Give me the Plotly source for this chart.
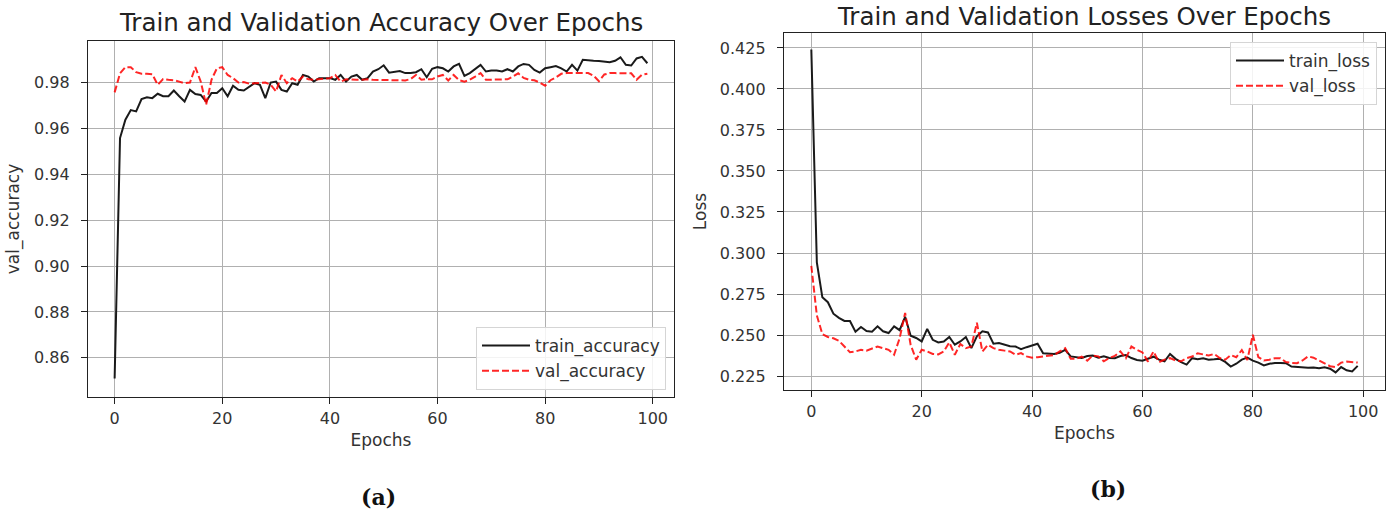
import plotly.graph_objects as go

epochs = list(range(100))

train_accuracy = [
    0.8510, 0.9558, 0.9638, 0.9680, 0.9674, 0.9728, 0.9736, 0.9732, 0.9751, 0.9740,
    0.9740, 0.9765, 0.9740, 0.9717, 0.9768, 0.9750, 0.9746, 0.9717, 0.9754, 0.9754,
    0.9775, 0.9740, 0.9786, 0.9768, 0.9765, 0.9783, 0.9797, 0.9790, 0.9732, 0.9800,
    0.9804, 0.9768, 0.9761, 0.9797, 0.9790, 0.9833, 0.9826, 0.9804, 0.9819, 0.9819,
    0.9819, 0.9812, 0.9833, 0.9804, 0.9826, 0.9833, 0.9812, 0.9819, 0.9848, 0.9858,
    0.9875, 0.9843, 0.9846, 0.9850, 0.9841, 0.9841, 0.9845, 0.9858, 0.9823, 0.9860,
    0.9867, 0.9862, 0.9848, 0.9870, 0.9881, 0.9829, 0.9841, 0.9860, 0.9877, 0.9848,
    0.9852, 0.9852, 0.9848, 0.9858, 0.9848, 0.9870, 0.9881, 0.9877, 0.9855, 0.9843,
    0.9862, 0.9867, 0.9872, 0.9862, 0.9848, 0.9877, 0.9852, 0.9899, 0.9896, 0.9895,
    0.9894, 0.9892, 0.9888, 0.9895, 0.9910, 0.9877, 0.9874, 0.9905, 0.9912, 0.9884,
]

val_accuracy = [
    0.9757, 0.9840, 0.9867, 0.9867, 0.9845, 0.9838, 0.9838, 0.9836, 0.9790, 0.9815,
    0.9812, 0.9810, 0.9804, 0.9797, 0.9800, 0.9867, 0.9804, 0.9703, 0.9812, 0.9862,
    0.9867, 0.9833, 0.9819, 0.9800, 0.9802, 0.9795, 0.9797, 0.9800, 0.9800, 0.9790,
    0.9761, 0.9833, 0.9797, 0.9819, 0.9804, 0.9826, 0.9814, 0.9812, 0.9814, 0.9819,
    0.9819, 0.9833, 0.9804, 0.9814, 0.9812, 0.9812, 0.9812, 0.9814, 0.9812, 0.9812,
    0.9810, 0.9809, 0.9809, 0.9809, 0.9809, 0.9815, 0.9833, 0.9812, 0.9815, 0.9814,
    0.9826, 0.9833, 0.9809, 0.9833, 0.9810, 0.9804, 0.9812, 0.9826, 0.9841, 0.9812,
    0.9812, 0.9812, 0.9812, 0.9814, 0.9826, 0.9840, 0.9820, 0.9812, 0.9810, 0.9800,
    0.9786, 0.9810, 0.9822, 0.9838, 0.9841, 0.9841, 0.9841, 0.9841, 0.9841, 0.9830,
    0.9806, 0.9835, 0.9841, 0.9841, 0.9841, 0.9841, 0.9840, 0.9812, 0.9834, 0.9838,
]

train_loss = [
    0.4240, 0.2943, 0.2730, 0.2700, 0.2630, 0.2605, 0.2586, 0.2585, 0.2520, 0.2549,
    0.2525, 0.2520, 0.2553, 0.2523, 0.2512, 0.2553, 0.2530, 0.2611, 0.2496, 0.2482,
    0.2461, 0.2537, 0.2471, 0.2455, 0.2460, 0.2488, 0.2441, 0.2461, 0.2488, 0.2420,
    0.2492, 0.2523, 0.2516, 0.2447, 0.2451, 0.2441, 0.2432, 0.2430, 0.2414, 0.2426,
    0.2437, 0.2447, 0.2389, 0.2389, 0.2385, 0.2392, 0.2410, 0.2370, 0.2366, 0.2360,
    0.2372, 0.2375, 0.2362, 0.2370, 0.2360, 0.2359, 0.2372, 0.2378, 0.2360, 0.2348,
    0.2344, 0.2356, 0.2368, 0.2350, 0.2340, 0.2385, 0.2355, 0.2335, 0.2320, 0.2359,
    0.2353, 0.2358, 0.2350, 0.2352, 0.2355, 0.2336, 0.2308, 0.2325, 0.2350, 0.2362,
    0.2344, 0.2332, 0.2315, 0.2325, 0.2330, 0.2330, 0.2328, 0.2308, 0.2304, 0.2300,
    0.2300, 0.2302, 0.2297, 0.2303, 0.2295, 0.2272, 0.2305, 0.2285, 0.2278, 0.2312,
]

val_loss = [
    0.2922, 0.2620, 0.2505, 0.2488, 0.2480, 0.2465, 0.2430, 0.2395, 0.2400, 0.2410,
    0.2405, 0.2420, 0.2430, 0.2420, 0.2410, 0.2380, 0.2480, 0.2635, 0.2440, 0.2350,
    0.2410, 0.2400, 0.2385, 0.2382, 0.2400, 0.2455, 0.2380, 0.2445, 0.2420, 0.2430,
    0.2575, 0.2400, 0.2440, 0.2420, 0.2410, 0.2405, 0.2400, 0.2380, 0.2390, 0.2370,
    0.2362, 0.2365, 0.2369, 0.2373, 0.2378, 0.2400, 0.2420, 0.2355, 0.2355, 0.2368,
    0.2344, 0.2375, 0.2370, 0.2340, 0.2360, 0.2373, 0.2400, 0.2359, 0.2430, 0.2410,
    0.2394, 0.2338, 0.2400, 0.2335, 0.2350, 0.2359, 0.2345, 0.2340, 0.2359, 0.2369,
    0.2389, 0.2382, 0.2375, 0.2385, 0.2360, 0.2350, 0.2378, 0.2365, 0.2408, 0.2348,
    0.2502, 0.2365, 0.2345, 0.2350, 0.2359, 0.2359, 0.2335, 0.2330, 0.2328, 0.2345,
    0.2370, 0.2362, 0.2345, 0.2328, 0.2310, 0.2305, 0.2332, 0.2338, 0.2335, 0.2332,
]

x_ticks = [0, 20, 40, 60, 80, 100]
titles = ["Train and Validation Accuracy Over Epochs", "Train and Validation Losses Over Epochs"]
captions = ["(a)", "(b)"]

W, H = 1393, 513
FONT = "DejaVu Sans"
BLACK = "#1a1a1a"
RED = "rgba(255,0,0,0.85)"


def px_x(a, b):
    return [a / W, b / W]


def px_y(top, bottom):
    return [1 - bottom / H, 1 - top / H]


fig = go.Figure()
fig.add_trace(go.Scatter(x=epochs, y=train_accuracy, mode="lines", name="train_accuracy",
                         line=dict(color=BLACK, width=2), xaxis="x", yaxis="y", legend="legend"))
fig.add_trace(go.Scatter(x=epochs, y=val_accuracy, mode="lines", name="val_accuracy",
                         line=dict(color=RED, width=2, dash="7px,3px"), xaxis="x", yaxis="y", legend="legend"))
fig.add_trace(go.Scatter(x=epochs, y=train_loss, mode="lines", name="train_loss",
                         line=dict(color=BLACK, width=2), xaxis="x2", yaxis="y2", legend="legend2"))
fig.add_trace(go.Scatter(x=epochs, y=val_loss, mode="lines", name="val_loss",
                         line=dict(color=RED, width=2, dash="7px,3px"), xaxis="x2", yaxis="y2", legend="legend2"))

common = dict(showgrid=True, gridcolor="#b0b0b0", gridwidth=1, showline=True, linecolor="#222",
              linewidth=1.3, mirror=True, ticks="outside", tickcolor="#222",
              zeroline=False, automargin=False, tickfont=dict(family=FONT, size=16, color="#333"))
xcommon = dict(ticklen=6, ticklabelstandoff=1, **common)
ycommon = dict(ticklen=6, ticklabelstandoff=8, **common)

legend_style = dict(bgcolor="rgba(255,255,255,0.85)", bordercolor="#d5d5d5", borderwidth=1,
                    font=dict(family=FONT, size=17, color="#333"), tracegroupgap=0, itemwidth=48)

fig.update_layout(
    width=W, height=H, margin=dict(l=0, r=0, t=0, b=0),
    paper_bgcolor="white", plot_bgcolor="white",
    font=dict(family=FONT, color="#333"),
    xaxis=dict(domain=px_x(88, 674), range=[-4.95, 103.95], tickvals=x_ticks, anchor="y",
               title=dict(text="Epochs", font=dict(size=17), standoff=6), **xcommon),
    yaxis=dict(domain=px_y(41, 397), range=[0.8429, 0.9981], dtick=0.02, tickformat=".2f", anchor="x",
               title=dict(text="val_accuracy", font=dict(size=17), standoff=10), **ycommon),
    xaxis2=dict(domain=px_x(784, 1385), range=[-4.95, 103.95], tickvals=x_ticks, anchor="y2",
                title=dict(text="Epochs", font=dict(size=17), standoff=6), **xcommon),
    yaxis2=dict(domain=px_y(33, 390), range=[0.2165, 0.4341], dtick=0.025, tickformat=".3f", anchor="x2",
                title=dict(text="Loss", font=dict(size=17), standoff=8), **ycommon),
    legend=dict(x=666 / W, y=1 - 390 / H, xanchor="right", yanchor="bottom", **legend_style),
    legend2=dict(x=1377 / W, y=1 - 42 / H, xanchor="right", yanchor="top", **legend_style),
    annotations=[
        dict(text=titles[0], x=381 / W, y=1 - 22 / H, xref="paper", yref="paper", showarrow=False,
             xanchor="center", yanchor="middle", font=dict(family=FONT, size=24.5, color="#222")),
        dict(text=titles[1], x=1084 / W, y=1 - 16 / H, xref="paper", yref="paper", showarrow=False,
             xanchor="center", yanchor="middle", font=dict(family=FONT, size=24.5, color="#222")),
        dict(text="<b>" + captions[0] + "</b>", x=378 / W, y=1 - 497 / H, xref="paper", yref="paper",
             showarrow=False, xanchor="center", yanchor="middle",
             font=dict(family="DejaVu Serif", size=22, color="#111")),
        dict(text="<b>" + captions[1] + "</b>", x=1108 / W, y=1 - 489 / H, xref="paper", yref="paper",
             showarrow=False, xanchor="center", yanchor="middle",
             font=dict(family="DejaVu Serif", size=22, color="#111")),
    ],
)

fig.write_html("out.html", config={"displayModeBar": False},
               post_script="document.body.style.margin='0';document.body.style.overflow='hidden';")
